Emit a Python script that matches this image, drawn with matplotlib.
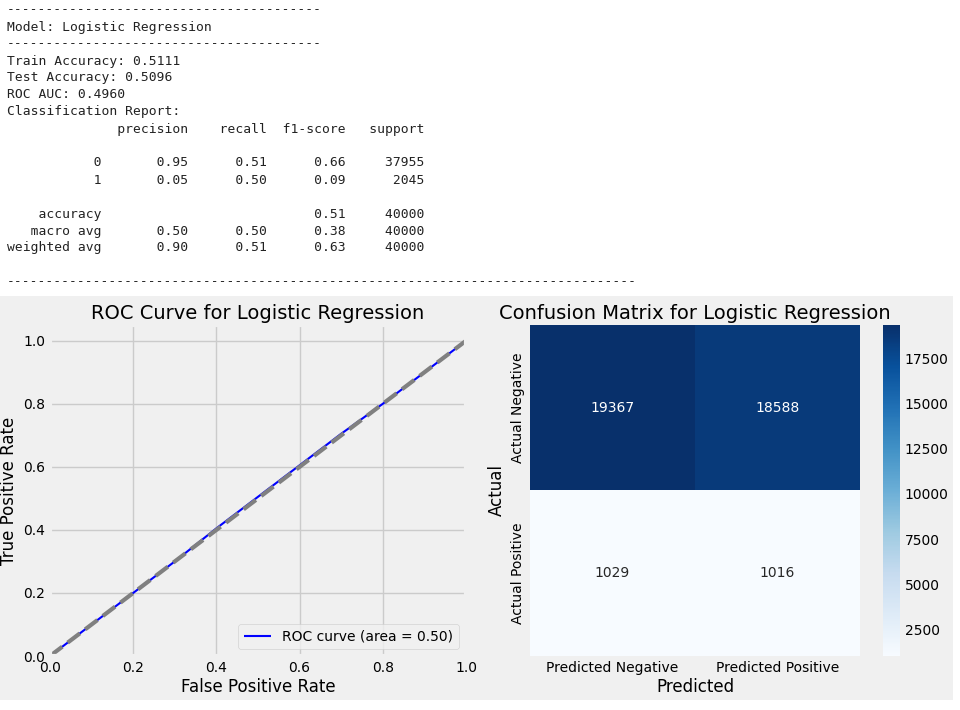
import numpy as np
import matplotlib
matplotlib.use("Agg")
from matplotlib import pyplot as plt

model_name = "Logistic Regression"
train_acc = 0.5111
test_acc = 0.5096
roc_auc = 0.4960
report_lines = [
    "              precision    recall  f1-score   support",
    "",
    "           0       0.95      0.51      0.66     37955",
    "           1       0.05      0.50      0.09      2045",
    "",
    "    accuracy                           0.51     40000",
    "   macro avg       0.50      0.50      0.38     40000",
    "weighted avg       0.90      0.51      0.63     40000",
    "",
]
fpr = [0.0, 0.1, 0.2, 0.3, 0.4, 0.5, 0.6, 0.7, 0.8, 0.9, 1.0]
tpr = [0.0, 0.1, 0.2, 0.3, 0.405, 0.505, 0.605, 0.705, 0.8, 0.9, 1.0]
cm = np.array([[19367, 18588], [1029, 1016]])
row_labels = ["Actual Negative", "Actual Positive"]
col_labels = ["Predicted Negative", "Predicted Positive"]
cbar_ticks = [2500, 5000, 7500, 10000, 12500, 15000, 17500]

plt.style.use("fivethirtyeight")
W, H = 960, 710
fig = plt.figure(figsize=(W / 100, H / 100), dpi=100, facecolor="white")

def px(x, y, w, h):
    return [x / W, 1 - (y + h) / H, w / W, h / H]

# grey figure region
bg = fig.add_axes(px(0, 296, 953, 404))
bg.set_facecolor("#f0f0f0")
bg.set_xticks([]); bg.set_yticks([])
for s in bg.spines.values():
    s.set_visible(False)
bg.grid(False)

lines = ["-" * 40, "Model: " + model_name, "-" * 40,
         "Train Accuracy: %.4f" % train_acc,
         "Test Accuracy: %.4f" % test_acc,
         "ROC AUC: %.4f" % roc_auc,
         "Classification Report:"] + report_lines + ["-" * 80]
for i, line in enumerate(lines):
    fig.text(7 / W, 1 - (10 + 17 * i) / H, line, family="DejaVu Sans Mono",
             fontsize=9.4, va="center", ha="left", color="#222222")

# ROC
ax = fig.add_axes(px(50, 325, 416, 331))
ax.set_facecolor("#f0f0f0")
ax.plot(fpr, tpr, color="blue", lw=1.5, label="ROC curve (area = %.2f)" % 0.50)
ax.plot([0, 1], [0, 1], color="gray", lw=3, linestyle="--")
ax.set_xlim(0, 1); ax.set_ylim(0, 1.05)
ax.set_xticks([0, 0.2, 0.4, 0.6, 0.8, 1.0])
ax.set_yticks([0, 0.2, 0.4, 0.6, 0.8, 1.0])
ax.tick_params(labelsize=10)
ax.set_xlabel("False Positive Rate", fontsize=12, labelpad=2)
ax.set_ylabel("True Positive Rate", fontsize=12, labelpad=4)
ax.set_title("ROC Curve for " + model_name, fontsize=14, pad=4)
ax.legend(loc="lower right", fontsize=10, facecolor="#f0f0f0")

# confusion matrix
ax2 = fig.add_axes(px(530, 325, 330, 331))
im = ax2.imshow(cm, cmap="Blues", aspect="auto")
ax2.grid(False)
for s in ax2.spines.values():
    s.set_visible(False)
for i in range(2):
    for j in range(2):
        c = "white" if cm[i, j] > cm.max() / 2 else "#262626"
        ax2.text(j, i, str(cm[i, j]), ha="center", va="center", color=c, fontsize=10)
ax2.set_xticks([0, 1]); ax2.set_xticklabels(col_labels, fontsize=10)
ax2.set_yticks([0, 1]); ax2.set_yticklabels(row_labels, fontsize=10, rotation=90, va="center")
ax2.set_xlabel("Predicted", fontsize=12, labelpad=2)
ax2.set_ylabel("Actual", fontsize=12)
ax2.set_title("Confusion Matrix for " + model_name, fontsize=14, pad=4)
cax = fig.add_axes(px(883, 325, 17, 331))
cb = fig.colorbar(im, cax=cax, ticks=cbar_ticks)
cb.outline.set_visible(False)
cax.tick_params(labelsize=10)
cax.grid(False)

fig.savefig("out.png", dpi=100, facecolor="white")
